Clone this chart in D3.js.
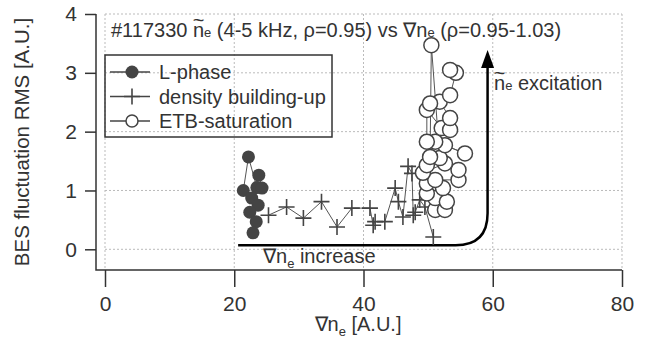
<!DOCTYPE html>
<html>
<head>
<meta charset="utf-8">
<script src="https://cdn.jsdelivr.net/npm/d3@7"></script>
<style>
  body { margin: 0; background: #fff; }
  svg { display: block; font-family: "Liberation Sans", Arial, sans-serif; }
</style>
</head>
<body>
<svg class="chart" width="647" height="342"></svg>
<script>
const xTicks = [0, 20, 40, 60, 80];
const yTicks = [0, 1, 2, 3, 4];

// [grad ne, BES RMS]
const lPhase = [
  [21.4, 1.0], [22.2, 1.57], [23.5, 1.05], [23.8, 1.26], [24.3, 1.04],
  [22.7, 0.87], [23.7, 0.75], [22.4, 0.63], [23.4, 0.47], [22.9, 0.28],
];
const densityBuildup = [
  [25.3, 0.58], [28.1, 0.72], [30.7, 0.53], [33.5, 0.81], [35.9, 0.38],
  [38.2, 0.70], [41.0, 0.70], [41.5, 0.41], [41.8, 0.47], [43.3, 0.47],
  [44.9, 1.04], [45.4, 0.81], [46.1, 0.55], [46.9, 1.41], [47.5, 1.29],
  [47.7, 0.58], [48.0, 0.63], [48.7, 0.84], [49.5, 0.72], [50.8, 0.21],
];
const etbSaturation = [
  [51.1, 0.67], [52.6, 0.67], [51.1, 0.87], [52.9, 0.81], [49.8, 0.95],
  [52.3, 1.04], [49.8, 1.12], [51.1, 1.18], [54.7, 1.18], [54.7, 1.35],
  [52.6, 1.46], [49.2, 1.30], [49.8, 1.43], [51.8, 1.55], [50.5, 3.47],
  [50.3, 1.57], [52.6, 1.77], [55.7, 1.63], [51.1, 1.83], [49.8, 1.83],
  [49.8, 2.37], [52.1, 2.06], [53.4, 2.03], [53.4, 2.23], [51.8, 2.51],
  [50.3, 2.48], [53.4, 2.62], [54.3, 3.0], [53.4, 3.05],
];
const legendItems = ['L-phase', 'density building-up', 'ETB-saturation'];

// annotation arrow, in data units
const arrowStartX = 20.6;
const arrowBaseY = 0.07;
const arrowX = 59.2;
const arrowTipY = 3.39;

const INK = '#333';
const MARK = '#444';
const FONT = 20;

const svg = d3.select('.chart');
const x = d3.scaleLinear().domain([0, 80]).range([105, 622]);
const y = d3.scaleLinear().domain([0, 4]).range([249.3, 14]);
const axisY = 270;
const axisX = 96;

// grid
const grid = svg.append('g')
  .attr('stroke', '#bbb')
  .attr('stroke-width', 1)
  .attr('stroke-dasharray', '2,2');
grid.selectAll('.gy').data(yTicks).enter().append('line')
  .attr('x1', x(0)).attr('x2', x(80))
  .attr('y1', (d) => y(d)).attr('y2', (d) => y(d));
grid.selectAll('.gx').data(xTicks).enter().append('line')
  .attr('x1', (d) => x(d)).attr('x2', (d) => x(d))
  .attr('y1', y(4)).attr('y2', axisY);

// axes
const styleAxis = (g) => {
  g.select('.domain').remove();
  g.selectAll('.tick line').attr('stroke', INK).attr('stroke-width', 1.5);
  g.selectAll('.tick text').attr('fill', INK).style('font-size', '21px')
    .style('font-family', '"Liberation Sans", Arial, sans-serif');
};
svg.append('g')
  .attr('transform', `translate(${axisX},0)`)
  .call(d3.axisLeft(y).tickValues(yTicks).tickFormat(d3.format('d'))
    .tickSize(11).tickPadding(8))
  .call(styleAxis);
svg.append('g')
  .attr('transform', `translate(0,${axisY})`)
  .call(d3.axisBottom(x).tickValues(xTicks).tickFormat(d3.format('d'))
    .tickSize(17).tickPadding(9))
  .call(styleAxis);
svg.append('path')
  .attr('d', `M${axisX},${y(4)}V${axisY}H${x(80)}`)
  .attr('fill', 'none').attr('stroke', INK).attr('stroke-width', 1.5);

// rich text helper: parts = [text, kind] where kind is '', 'small', 'sub'
const richText = (g, px, py, parts, anchor) => {
  const t = g.append('text')
    .attr('x', px).attr('y', py)
    .attr('fill', INK)
    .attr('text-anchor', anchor || 'start')
    .style('font-size', `${FONT}px`);
  let prevShift = 0;
  const spans = parts.map(([s, kind]) => {
    const shift = kind === 'sub' ? 5 : 0;
    const sp = t.append('tspan').text(s)
      .attr('dy', shift - prevShift)
      .style('font-size', kind ? '13px' : `${FONT}px`);
    prevShift = shift;
    return sp;
  });
  return { t, spans };
};
// tilde over one glyph, kept inside the same text element
const addTilde = (rich, idx) => {
  const box = rich.spans[idx].node().getExtentOfChar(0);
  const tl = rich.t.append('tspan').text('~').style('font-size', `${FONT}px`);
  const w = tl.node().getComputedTextLength();
  tl.attr('x', box.x + box.width / 2 - w / 2)
    .attr('y', box.y + box.height * 0.36);
};

// title
const title = richText(svg, 111, 37, [
  ['#117330 ', ''], ['n', ''], ['e', 'small'],
  [' (4-5 kHz, \u03c1=0.95) vs \u2207n', ''], ['e', 'small'],
  [' (\u03c1=0.95-1.03)', ''],
]);
addTilde(title, 1);

// axis titles
richText(svg, 358, 331, [['\u2207n', ''], ['e', 'sub'], [' [A.U.]', '']], 'middle');
svg.append('text')
  .attr('transform', `translate(29,${(y(4) + axisY) / 2}) rotate(-90)`)
  .attr('text-anchor', 'middle')
  .attr('fill', INK)
  .style('font-size', '20.5px')
  .text('BES fluctuation RMS [A.U.]');

// annotation arrow
const r = 32;
svg.append('path')
  .attr('d', `M${x(arrowStartX)},${y(arrowBaseY)}H${x(arrowX) - r}`
    + `Q${x(arrowX)},${y(arrowBaseY)} ${x(arrowX)},${y(arrowBaseY) - r}`
    + `V${y(arrowTipY) + 16}`)
  .attr('fill', 'none').attr('stroke', '#000').attr('stroke-width', 2.5);
svg.append('path')
  .attr('d', `M${x(arrowX) - 6.5},${y(arrowTipY) + 18}L${x(arrowX)},${y(arrowTipY)}L${x(arrowX) + 6.5},${y(arrowTipY) + 18}Z`)
  .attr('fill', '#000');
richText(svg, 263, 263, [['\u2207n', ''], ['e', 'sub'], [' increase', '']]);
const exc = richText(svg, 494, 90, [['n', ''], ['e', 'small'], [' excitation', '']]);
addTilde(exc, 0);

// series
const line = d3.line().x((d) => x(d[0])).y((d) => y(d[1]));
const drawLine = (data) => svg.append('path').datum(data)
  .attr('d', line).attr('fill', 'none').attr('stroke', '#555').attr('stroke-width', 1);

const plus = (g, s) => g.append('path')
  .attr('d', `M${-s},0H${s}M0,${-s}V${s}`)
  .attr('stroke', MARK).attr('stroke-width', 1.6).attr('fill', 'none');

drawLine(densityBuildup);
svg.append('g').selectAll('g').data(densityBuildup).enter().append('g')
  .attr('transform', (d) => `translate(${x(d[0])},${y(d[1])})`)
  .each(function drawPlus() { plus(d3.select(this), 8); });

drawLine(lPhase);
svg.append('g').selectAll('circle').data(lPhase).enter().append('circle')
  .attr('cx', (d) => x(d[0])).attr('cy', (d) => y(d[1])).attr('r', 6.5)
  .attr('fill', MARK);

drawLine(etbSaturation);
svg.append('g').selectAll('circle').data(etbSaturation).enter().append('circle')
  .attr('cx', (d) => x(d[0])).attr('cy', (d) => y(d[1])).attr('r', 7.5)
  .attr('fill', '#fff').attr('stroke', MARK).attr('stroke-width', 1.5);

// legend
const legend = svg.append('g');
legend.append('rect')
  .attr('x', 105).attr('y', 55).attr('width', 227).attr('height', 82)
  .attr('fill', 'none').attr('stroke', INK).attr('stroke-width', 1.5);
const entry = legend.selectAll('.entry').data(legendItems).enter().append('g')
  .attr('transform', (d, i) => `translate(0,${72 + i * 24.5})`);
entry.append('line').attr('x1', 110).attr('x2', 150)
  .attr('stroke', MARK).attr('stroke-width', 1.5);
entry.append('text')
  .attr('x', 159).attr('y', 7)
  .attr('fill', INK).style('font-size', `${FONT}px`)
  .text((d) => d);
entry.each(function drawSymbol(d, i) {
  const g = d3.select(this);
  if (i === 0) g.append('circle').attr('cx', 132).attr('r', 6.5).attr('fill', MARK);
  if (i === 1) g.append('g').attr('transform', 'translate(132,0)').call((s) => plus(s, 8));
  if (i === 2) {
    g.append('circle').attr('cx', 132).attr('r', 6)
      .attr('fill', '#fff').attr('stroke', MARK).attr('stroke-width', 1.5);
  }
});
</script>
</body>
</html>
